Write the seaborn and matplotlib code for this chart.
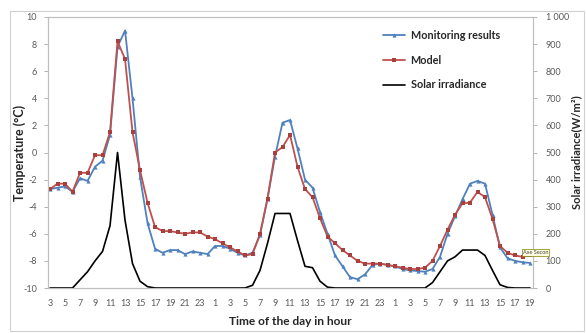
import matplotlib
matplotlib.use("Agg")
import matplotlib.pyplot as plt
import seaborn as sns
import pandas as pd
from matplotlib.patches import Rectangle

# ---- data ----
hours = ([str(h) for h in range(3, 25)] + [str(h) for h in range(1, 25)]
         + [str(h) for h in range(1, 20)])

monitoring = [-2.7, -2.6, -2.5, -2.9, -1.9, -2.1, -1.05, -0.6, 1.3, 7.8, 9.0, 4.0,
              -1.8, -5.2, -7.1, -7.4, -7.2, -7.2, -7.5, -7.3, -7.4, -7.5,
              -6.9, -6.9, -7.1, -7.4, -7.6, -7.4, -6.1, -3.4, -0.3, 2.2, 2.4, 0.3,
              -2.0, -2.6, -4.4, -6.0, -7.6, -8.4, -9.2, -9.35, -9.0, -8.3, -8.2, -8.3,
              -8.4, -8.6, -8.7, -8.75, -8.8, -8.6, -7.7, -6.0, -4.7, -3.45, -2.3,
              -2.1, -2.3, -4.6, -7.0, -7.8, -8.0, -8.1, -8.15]

model = [-2.7, -2.3, -2.3, -2.9, -1.5, -1.5, -0.2, -0.2, 1.5, 8.2, 6.9, 1.5,
         -1.3, -3.7, -5.5, -5.8, -5.8, -5.9, -6.0, -5.9, -5.9, -6.2,
         -6.4, -6.7, -7.0, -7.3, -7.6, -7.5, -6.0, -3.4, 0.0, 0.4, 1.3, -1.05,
         -2.7, -3.3, -4.85, -6.2, -6.7, -7.2, -7.6, -8.0, -8.2, -8.2, -8.2, -8.3,
         -8.4, -8.5, -8.6, -8.6, -8.5, -8.0, -6.9, -5.7, -4.6, -3.75, -3.7,
         -2.9, -3.3, -4.9, -6.9, -7.4, -7.6, -7.7, -7.6]

irradiance = [0, 0, 0,
              0, 30, 60, 100, 135, 230, 500, 250, 90, 25, 5, 0,
              0, 0, 0, 0, 0, 0, 0, 0, 0, 0, 0,
              0, 10, 65, 165, 275, 275, 275, 175, 80, 75, 25, 3,
              0, 0, 0, 0, 0, 0, 0, 0, 0, 0, 0, 0,
              0, 20, 60, 100, 115, 140, 140, 140, 120, 65, 12, 2, 0, 0, 0]

temp_ticks = [-10, -8, -6, -4, -2, 0, 2, 4, 6, 8, 10]
irr_ticks = [0, 100, 200, 300, 400, 500, 600, 700, 800, 900, 1000]
irr_tick_labels = ["0", "100", "200", "300", "400", "500", "600", "700", "800", "900", "1 000"]

idx = list(range(len(hours)))
df = pd.DataFrame({"idx": idx, "hour": hours, "Monitoring results": monitoring,
                   "Model": model, "Solar irradiance": irradiance})

# ---- style ----
sns.set_theme(style="white")
plt.rcParams["font.family"] = ["Lato", "DejaVu Sans"]

W, H = 586, 333
AX_L, AX_R, AX_T, AX_B = 48, 533, 17, 288
fig = plt.figure(figsize=(W / 100, H / 100), dpi=100)
ax = fig.add_axes([AX_L / W, 1 - AX_B / H, (AX_R - AX_L) / W, (AX_B - AX_T) / H])
ax2 = ax.twinx()

blue = "#4F81BD"
red = "#C0504D"
txt = "#595959"

sns.lineplot(data=df, x="idx", y="Monitoring results", ax=ax, color=blue, lw=1.3,
             marker="^", markersize=3.0, markeredgewidth=0, label="Monitoring results",
             legend=False)
sns.lineplot(data=df, x="idx", y="Model", ax=ax, color=red, lw=1.3,
             marker="s", markersize=2.7, markeredgewidth=0, markerfacecolor="#A8403D",
             label="Model", legend=False)
sns.lineplot(data=df, x="idx", y="Solar irradiance", ax=ax2, color="black", lw=1.2,
             label="Solar irradiance", legend=False)

ax.set_xlim(-0.27, 64.4)
ax.set_ylim(-10, 10)
ax2.set_ylim(0, 1000)

ax.set_xticks(idx)
ax.set_xticklabels([h if i % 2 == 0 else "" for i, h in enumerate(hours)])
ax.set_yticks(temp_ticks)
ax.set_yticklabels([str(t) for t in temp_ticks])
ax2.set_yticks(irr_ticks)
ax2.set_yticklabels(irr_tick_labels)

for a in (ax, ax2):
    for s in a.spines.values():
        s.set_color("#BFBFBF")
        s.set_linewidth(0.8)
ax.tick_params(axis="both", labelsize=6.5, colors=txt, length=3, width=0.6,
               direction="out", pad=5, color="#A6A6A6")
ax2.tick_params(axis="y", labelsize=6.5, colors=txt, length=3, width=0.6,
                direction="out", pad=6, color="#A6A6A6")
ax.tick_params(axis="x", pad=5)

ax.set_xlabel("Time of the day in hour", fontsize=8.6, fontweight="bold", color="#262626",
              labelpad=6)
ax.set_ylabel("Temperature (°C)", fontsize=9, fontweight="bold", color="#262626")
ax2.set_ylabel("Solar irradiance(W/m²)", fontsize=8, fontweight="bold", color="#262626")
pw = AX_R - AX_L
ax.yaxis.set_label_coords((26 - AX_L) / pw, 0.5)
ax2.yaxis.set_label_coords((571 - AX_L) / pw, 0.5)

h1, l1 = ax.get_legend_handles_labels()
h2, l2 = ax2.get_legend_handles_labels()
leg = ax.legend(h1 + h2, l1 + l2, loc="upper right", bbox_to_anchor=(0.945, 0.975),
                frameon=False, fontsize=7.8, handlelength=2.0, labelspacing=1.25,
                handletextpad=0.5, borderaxespad=0.2)
for t in leg.get_texts():
    t.set_fontweight("bold")
    t.set_color("#262626")

# small tooltip artifact near the secondary axis
fig.text(523 / W, 1 - 254 / H, "Axe Secon", fontsize=4, color="#404040",
         bbox=dict(boxstyle="square,pad=0.15", fc="#FFFFE1", ec="#7F7F00", lw=0.5),
         clip_on=False)

# outer chart frame
fig.patches.append(Rectangle((10 / W, 2 / H), (584 - 10) / W, (322 - 2) / H,
                             transform=fig.transFigure, fill=False,
                             ec="#D0D0D0", lw=0.8))

fig.savefig("out.png", dpi=100)
